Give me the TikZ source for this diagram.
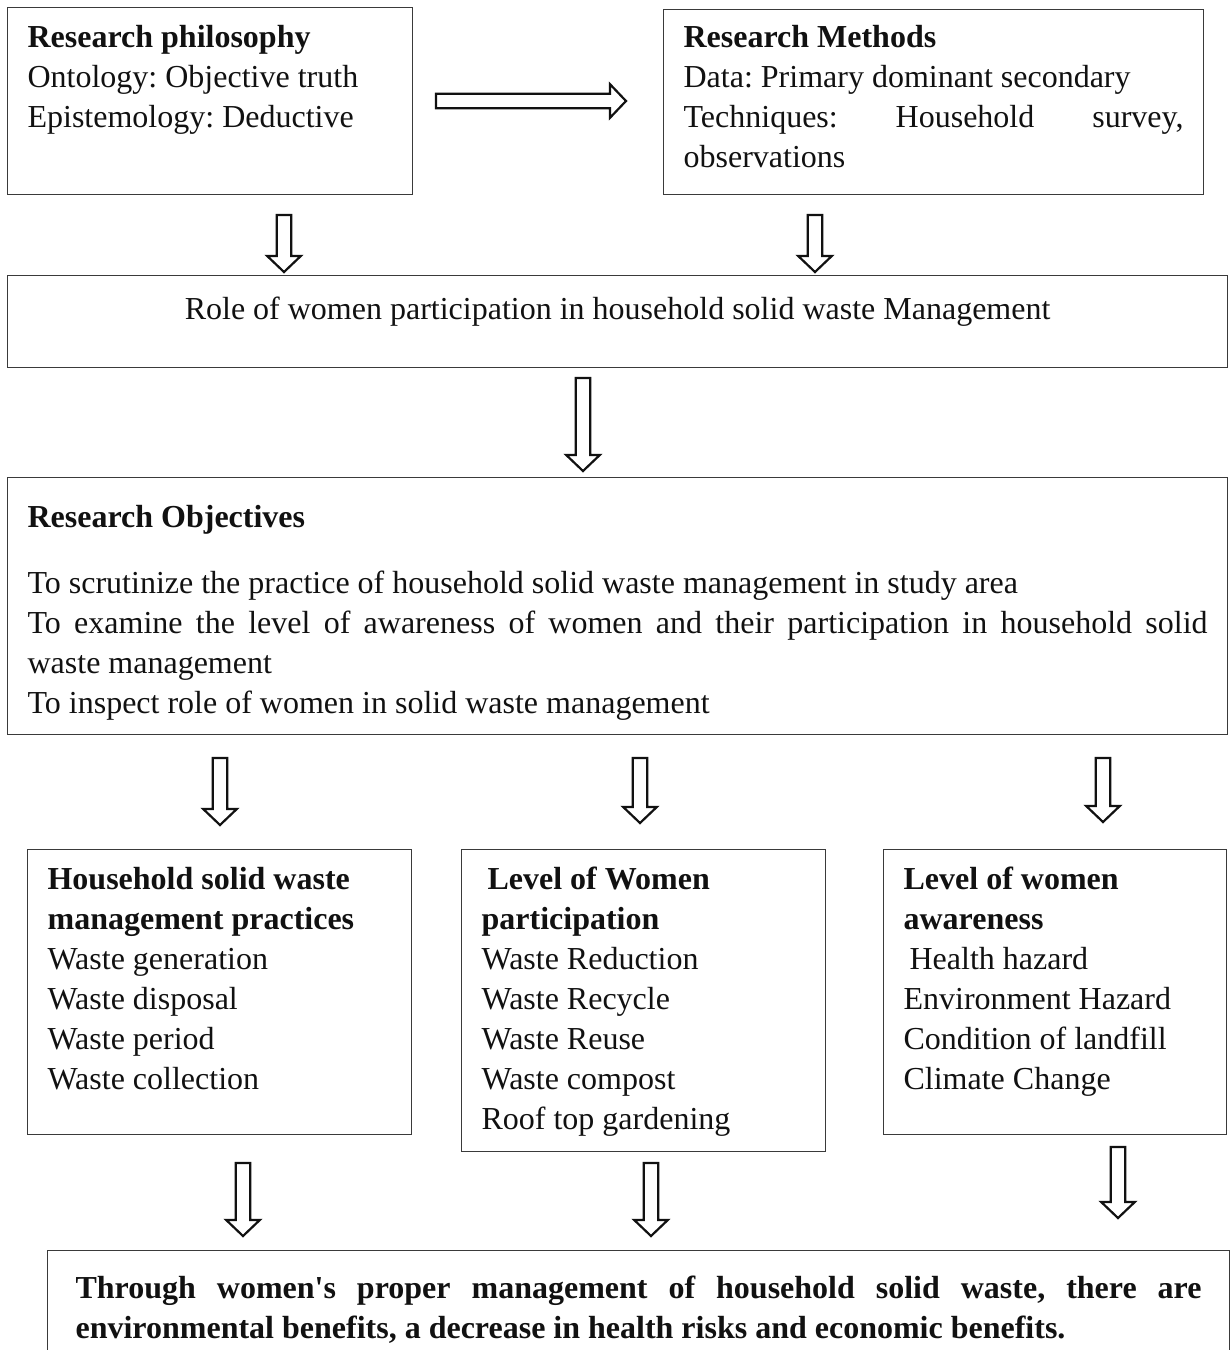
\documentclass[tikz,border=0pt]{standalone}
\usepackage{fontspec}
\setmainfont{Liberation Serif}
\usepackage{tikz}
\usetikzlibrary{calc}
\frenchspacing
\definecolor{Ink}{HTML}{111111}
\definecolor{Frame}{HTML}{3A3A3A}
\newcommand{\shaftw}{3.6pt}
\newcommand{\headw}{8.4pt}
\newcommand{\headlen}{8pt}
\newcommand{\lead}[1][20pt]{\rule{0pt}{#1}}
% hollow block arrow from tail coordinate #1 to tip coordinate #2
\newcommand{\blockarrow}[2]{%
  \coordinate (#1b) at ($(#2)!\headlen!(#1)$);
  \draw[blockedge] ($(#1)!\shaftw!90:(#2)$) -- ($(#1b)!\shaftw!90:(#2)$)
    -- ($(#1b)!\headw!90:(#2)$) -- (#2) -- ($(#1b)!\headw!-90:(#2)$)
    -- ($(#1b)!\shaftw!-90:(#2)$) -- ($(#1)!\shaftw!-90:(#2)$) -- cycle;}
\tikzset{
  panel/.style={rectangle,draw=Frame,line width=.6pt,anchor=north west,
    inner xsep=10pt,inner ysep=0pt,text=Ink,font=\fontsize{16pt}{20pt}\selectfont},
  blockedge/.style={draw=Ink,fill=white,line width=1.1pt,line join=miter}
}
\begin{document}
\begin{tikzpicture}[x=.5pt,y=-.5pt]
  \useasboundingbox (0,0) rectangle (1232,1350);
  % top row
  \node[panel] (philo) at (7,7) {\parbox[t][93.5pt][t]{182.5pt}{\lead\textbf{Research philosophy}\\
    Ontology: Objective truth\\ Epistemology: Deductive}};
  \node[panel] (methods) at (663,9) {\parbox[t][92.5pt][t]{250pt}{\lead[19pt]\textbf{Research Methods}\\
    Data: Primary dominant secondary\\ Techniques: Household survey,\linebreak observations}};
  \node[panel] (role) at (7,275) {\parbox[t][46pt][t]{590pt}{\centering\lead[22pt]Role of women participation in household solid waste Management}};
  \node[panel] (objectives) at (7,477) {\parbox[t][128.5pt][t]{590pt}{\lead[24.75pt]\textbf{Research Objectives}\\[13pt]
    To scrutinize the practice of household solid waste management in study area\\
    To examine the level of awareness of women and their participation in household solid\linebreak waste management\\
    To inspect role of women in solid waste management}};
  % three themes
  \node[panel] (practices) at (27,849) {\parbox[t][142.5pt][t]{172pt}{\lead\textbf{Household solid waste}\\
    \textbf{management practices}\\ Waste generation\\ Waste disposal\\ Waste period\\ Waste collection}};
  \node[panel] (participation) at (461,849) {\parbox[t][151pt][t]{162pt}{\lead\hspace*{3pt}\textbf{Level of Women}\\
    \textbf{participation}\\ Waste Reduction\\ Waste Recycle\\ Waste Reuse\\ Waste compost\\ Roof top gardening}};
  \node[panel] (awareness) at (883,849) {\parbox[t][142.5pt][t]{151.5pt}{\lead\textbf{Level of women}\\
    \textbf{awareness}\\ \hspace*{3pt}Health hazard\\ Environment Hazard\\ Condition of landfill\\ Climate Change}};
  \node[panel,inner xsep=14pt] (benefits) at (47,1250) {\parbox[t][75pt][t]{563pt}{\bfseries\lead[24pt]Through women\textquotesingle s proper management of household solid waste, there are\linebreak
    environmental benefits, a decrease in health risks and economic benefits.}};
  % arrows
  \coordinate (r0) at (436,101); \coordinate (r1) at (626,101);
  \coordinate (a0) at (284,215); \coordinate (a1) at (284,272);
  \coordinate (b0) at (815,215); \coordinate (b1) at (815,272);
  \coordinate (c0) at (583,378); \coordinate (c1) at (583,471);
  \coordinate (d0) at (220,758); \coordinate (d1) at (220,825);
  \coordinate (e0) at (640,758); \coordinate (e1) at (640,823);
  \coordinate (f0) at (1103,758); \coordinate (f1) at (1103,822);
  \coordinate (g0) at (243,1163); \coordinate (g1) at (243,1236);
  \coordinate (h0) at (651,1163); \coordinate (h1) at (651,1236);
  \coordinate (k0) at (1118,1147); \coordinate (k1) at (1118,1218);
  \blockarrow{r0}{r1}
  \blockarrow{a0}{a1} \blockarrow{b0}{b1}
  \blockarrow{c0}{c1}
  \blockarrow{d0}{d1} \blockarrow{e0}{e1} \blockarrow{f0}{f1}
  \blockarrow{g0}{g1} \blockarrow{h0}{h1} \blockarrow{k0}{k1}
\end{tikzpicture}
\end{document}
